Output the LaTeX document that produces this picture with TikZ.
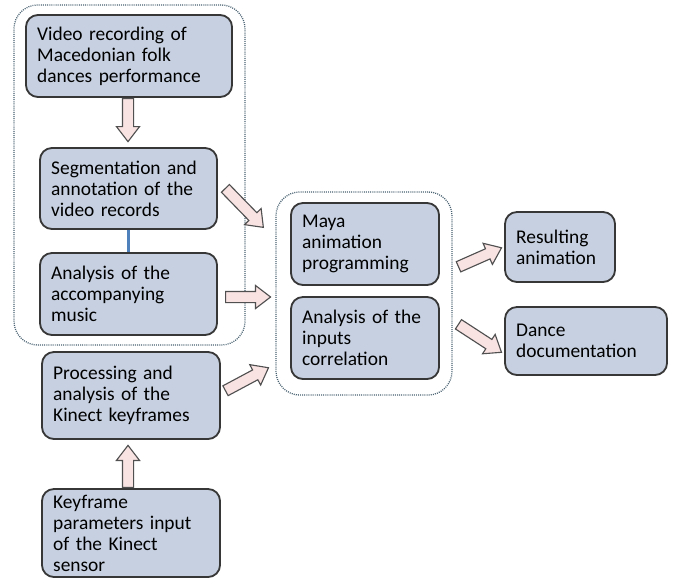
\documentclass[tikz,border=0pt]{standalone}
\usepackage{fontspec}
\setmainfont{Carlito}
\usetikzlibrary{shapes.arrows,calc}
\definecolor{boxFill}{RGB}{198,208,224}
\definecolor{boxLine}{RGB}{55,55,55}
\definecolor{groupLine}{RGB}{70,95,110}
\definecolor{arrowFill}{RGB}{248,226,226}
\definecolor{arrowLine}{RGB}{80,80,80}
\definecolor{linkBlue}{RGB}{79,129,189}

\begin{document}
\begin{tikzpicture}[
    x=0.025cm, y=-0.025cm,
    box/.style={rectangle, draw=boxLine, line width=1.3pt, fill=boxFill, rounded corners=8.5pt, align=left, inner xsep=0.28cm, inner ysep=0pt, font=\fontsize{13.8}{14.9}\selectfont},
    group/.style={rectangle, draw=groupLine, dash pattern=on 0.7pt off 0.8pt, line width=0.9pt, rounded corners=17pt},
    link/.style={draw=linkBlue, line width=1.8pt},
    blockarrow/.style={to path={
        let \p1=(\tikztostart), \p2=(\tikztotarget),
            \n1={atan2(\y2-\y1,\x2-\x1)}, \n2={veclen(\x2-\x1,\y2-\y1)}
        in node[single arrow, draw=arrowLine, fill=arrowFill, line width=0.8pt,
            minimum height=\n2, inner xsep=0pt, inner ysep=0.125cm, single arrow head extend=0.15cm,
            single arrow tip angle=75, anchor=tail, rotate=\n1] at (\p1) {}}}
]
\useasboundingbox (0,0) rectangle (675,578);

% dotted groups
\node[group, minimum width=5.775cm, minimum height=8.5cm] (vgroup) at (129.5,175) {};
\node[group, minimum width=4.4cm, minimum height=5.075cm] (mgroup) at (364,293.5) {};

% boxes
\node[box, text width=4.59cm, minimum height=2.05cm] (video) at (129,56) {Video recording of\\Macedonian folk\\dances performance};
\node[box, text width=3.865cm, minimum height=2.025cm] (seg) at (128.5,188.5) {Segmentation and\\annotation of the\\video records};
\node[box, text width=3.865cm, minimum height=2.05cm] (music) at (128.5,294) {Analysis of the\\accompanying\\music};
\node[box, text width=3.89cm, minimum height=2.175cm] (kinect) at (131,395.5) {Processing and\\analysis of the\\Kinect keyframes};
\node[box, text width=3.89cm, minimum height=2.2cm] (keyframe) at (131,533) {Keyframe\\parameters input\\of the Kinect\\sensor};
\node[box, text width=3.14cm, minimum height=2.05cm] (maya) at (365,244) {Maya\\animation\\programming};
\node[box, text width=3.14cm, minimum height=2.05cm] (corr) at (365,338) {Analysis of the\\inputs\\correlation};
\node[box, text width=2.19cm, minimum height=1.75cm] (result) at (560,247) {Resulting\\animation};
\node[box, text width=3.49cm, minimum height=1.7cm] (dance) at (586,341) {Dance\\documentation};

% arrow ends
\coordinate (videoout) at ($(video.south)+(-1,0)$);
\coordinate (segin) at ($(seg.north)+(-0.5,-6)$);
\coordinate (segout) at (225,188);
\coordinate (segtip) at (263,227);
\coordinate (musicout) at (225,297);
\coordinate (musictip) at (270,297);
\coordinate (kinectout) at (225,391);
\coordinate (kinecttip) at (268,368);
\coordinate (keyout) at ($(keyframe.north)+(-3,0)$);
\coordinate (kinectin) at ($(kinect.south)+(-3,6)$);
\coordinate (mayaout) at (458,267);
\coordinate (resulttip) at (501,248);
\coordinate (corrout) at (458,324);
\coordinate (dancetip) at (501,352);

% connectors
\draw[link] (seg) -- (music);
\path (videoout) to[blockarrow] (segin);
\path (segout) to[blockarrow] (segtip);
\path (musicout) to[blockarrow] (musictip);
\path (kinectout) to[blockarrow] (kinecttip);
\path (keyout) to[blockarrow] (kinectin);
\path (mayaout) to[blockarrow] (resulttip);
\path (corrout) to[blockarrow] (dancetip);
\end{tikzpicture}
\end{document}
